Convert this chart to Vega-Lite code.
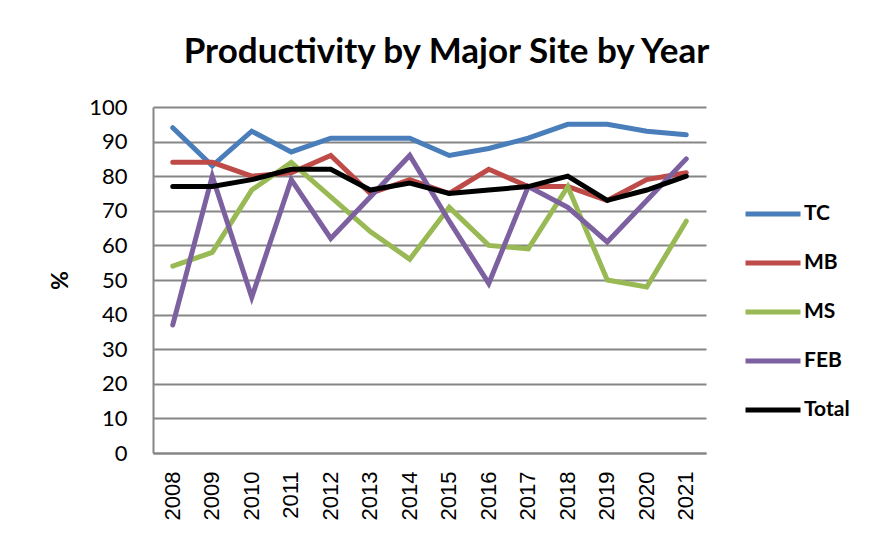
{
  "$schema": "https://vega.github.io/schema/vega-lite/v6.json",
  "width": 553,
  "height": 346,
  "autosize": {"type": "none"},
  "padding": {"left": 153, "top": 107, "right": 171, "bottom": 84},
  "background": "white",
  "config": {"view": {"stroke": null}},
  "title": {
    "text": "Productivity by Major Site by Year",
    "font": "Lato",
    "fontSize": 35,
    "fontWeight": "bold",
    "color": "black",
    "anchor": "middle",
    "frame": "group",
    "dx": 17,
    "offset": 26
  },
  "data": {
    "values": [
      {"year": "2008", "series": "TC", "value": 94},
      {"year": "2009", "series": "TC", "value": 83},
      {"year": "2010", "series": "TC", "value": 93},
      {"year": "2011", "series": "TC", "value": 87},
      {"year": "2012", "series": "TC", "value": 91},
      {"year": "2013", "series": "TC", "value": 91},
      {"year": "2014", "series": "TC", "value": 91},
      {"year": "2015", "series": "TC", "value": 86},
      {"year": "2016", "series": "TC", "value": 88},
      {"year": "2017", "series": "TC", "value": 91},
      {"year": "2018", "series": "TC", "value": 95},
      {"year": "2019", "series": "TC", "value": 95},
      {"year": "2020", "series": "TC", "value": 93},
      {"year": "2021", "series": "TC", "value": 92},
      {"year": "2008", "series": "MB", "value": 84},
      {"year": "2009", "series": "MB", "value": 84},
      {"year": "2010", "series": "MB", "value": 80},
      {"year": "2011", "series": "MB", "value": 81},
      {"year": "2012", "series": "MB", "value": 86},
      {"year": "2013", "series": "MB", "value": 75},
      {"year": "2014", "series": "MB", "value": 79},
      {"year": "2015", "series": "MB", "value": 75},
      {"year": "2016", "series": "MB", "value": 82},
      {"year": "2017", "series": "MB", "value": 77},
      {"year": "2018", "series": "MB", "value": 77},
      {"year": "2019", "series": "MB", "value": 73},
      {"year": "2020", "series": "MB", "value": 79},
      {"year": "2021", "series": "MB", "value": 81},
      {"year": "2008", "series": "MS", "value": 54},
      {"year": "2009", "series": "MS", "value": 58},
      {"year": "2010", "series": "MS", "value": 76},
      {"year": "2011", "series": "MS", "value": 84},
      {"year": "2012", "series": "MS", "value": 74},
      {"year": "2013", "series": "MS", "value": 64},
      {"year": "2014", "series": "MS", "value": 56},
      {"year": "2015", "series": "MS", "value": 71},
      {"year": "2016", "series": "MS", "value": 60},
      {"year": "2017", "series": "MS", "value": 59},
      {"year": "2018", "series": "MS", "value": 77},
      {"year": "2019", "series": "MS", "value": 50},
      {"year": "2020", "series": "MS", "value": 48},
      {"year": "2021", "series": "MS", "value": 67},
      {"year": "2008", "series": "FEB", "value": 37},
      {"year": "2009", "series": "FEB", "value": 80},
      {"year": "2010", "series": "FEB", "value": 45},
      {"year": "2011", "series": "FEB", "value": 79},
      {"year": "2012", "series": "FEB", "value": 62},
      {"year": "2013", "series": "FEB", "value": 74},
      {"year": "2014", "series": "FEB", "value": 86},
      {"year": "2015", "series": "FEB", "value": 67},
      {"year": "2016", "series": "FEB", "value": 49},
      {"year": "2017", "series": "FEB", "value": 77},
      {"year": "2018", "series": "FEB", "value": 71},
      {"year": "2019", "series": "FEB", "value": 61},
      {"year": "2020", "series": "FEB", "value": 73},
      {"year": "2021", "series": "FEB", "value": 85},
      {"year": "2008", "series": "Total", "value": 77},
      {"year": "2009", "series": "Total", "value": 77},
      {"year": "2010", "series": "Total", "value": 79},
      {"year": "2011", "series": "Total", "value": 82},
      {"year": "2012", "series": "Total", "value": 82},
      {"year": "2013", "series": "Total", "value": 76},
      {"year": "2014", "series": "Total", "value": 78},
      {"year": "2015", "series": "Total", "value": 75},
      {"year": "2016", "series": "Total", "value": 76},
      {"year": "2017", "series": "Total", "value": 77},
      {"year": "2018", "series": "Total", "value": 80},
      {"year": "2019", "series": "Total", "value": 73},
      {"year": "2020", "series": "Total", "value": 76},
      {"year": "2021", "series": "Total", "value": 80}
    ]
  },
  "mark": {"type": "line", "strokeWidth": 5, "strokeCap": "round", "strokeJoin": "miter"},
  "encoding": {
    "x": {
      "field": "year",
      "type": "ordinal",
      "scale": {"type": "band", "paddingInner": 0, "paddingOuter": 0},
      "axis": {
        "title": null,
        "labelAngle": -90,
        "labelAlign": "right",
        "labelBaseline": "middle",
        "labelFont": "Liberation Sans",
        "labelFontSize": 22,
        "labelColor": "black",
        "labelPadding": 18,
        "ticks": false,
        "domainColor": "#868686",
        "domainWidth": 2,
        "grid": false
      }
    },
    "y": {
      "field": "value",
      "type": "quantitative",
      "scale": {"domain": [0, 100], "nice": false},
      "axis": {
        "values": [0, 10, 20, 30, 40, 50, 60, 70, 80, 90, 100],
        "title": "%",
        "titleFont": "Lato",
        "titleFontSize": 23,
        "titleFontWeight": "bold",
        "titleColor": "black",
        "titlePadding": 16,
        "labelFont": "Lato",
        "labelFontSize": 22,
        "labelColor": "black",
        "labelPadding": 26,
        "ticks": false,
        "domainColor": "#868686",
        "domainWidth": 2,
        "grid": true,
        "gridColor": "#868686",
        "gridWidth": 2
      }
    },
    "color": {
      "field": "series",
      "type": "nominal",
      "sort": ["TC", "MB", "MS", "FEB", "Total"],
      "scale": {
        "domain": ["TC", "MB", "MS", "FEB", "Total"],
        "range": ["#4A7EBB", "#BE4B48", "#98B954", "#7D60A0", "#000000"]
      },
      "legend": {
        "title": null,
        "orient": "none",
        "legendX": 590,
        "legendY": 77,
        "symbolType": "stroke",
        "symbolSize": 3025,
        "symbolStrokeWidth": 5,
        "labelFont": "Lato",
        "labelFontSize": 21,
        "labelFontWeight": "bold",
        "labelColor": "black",
        "labelOffset": 1,
        "rowPadding": 9
      }
    }
  }
}
